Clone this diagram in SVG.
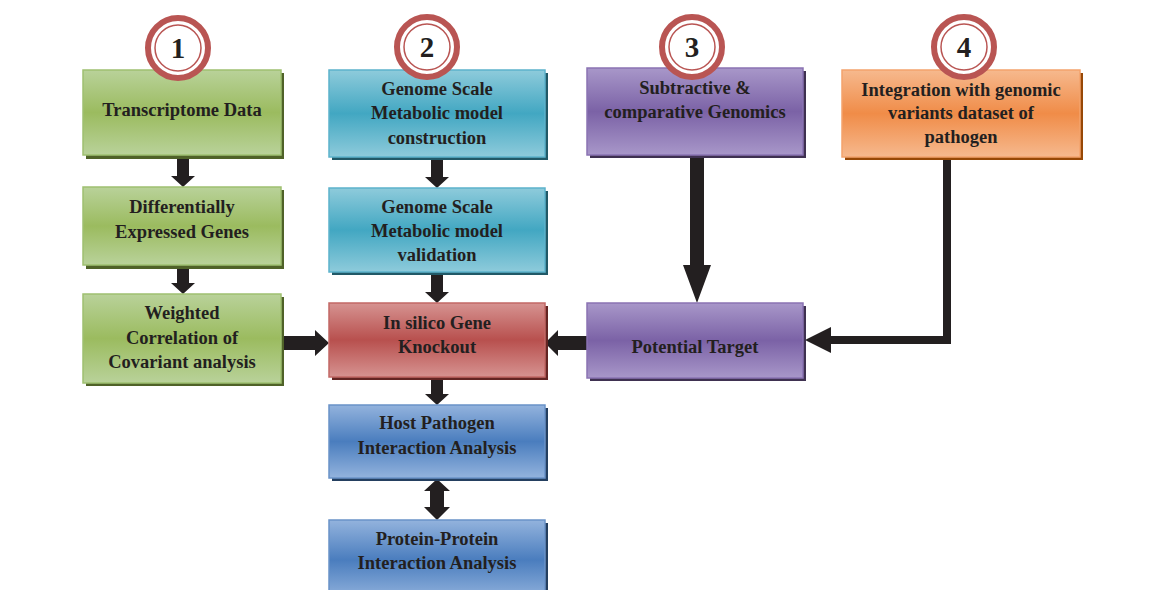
<svg xmlns="http://www.w3.org/2000/svg" width="1159" height="590" viewBox="0 0 1159 590">
<defs>
<linearGradient id="gGreen" x1="0" y1="0" x2="0" y2="1"><stop offset="0" stop-color="#b9d29a"/><stop offset="0.5" stop-color="#9bbb5f"/><stop offset="1" stop-color="#b9d29a"/></linearGradient>
<linearGradient id="gCyan" x1="0" y1="0" x2="0" y2="1"><stop offset="0" stop-color="#8ecbdb"/><stop offset="0.5" stop-color="#42a7c2"/><stop offset="1" stop-color="#8ecbdb"/></linearGradient>
<linearGradient id="gPurple" x1="0" y1="0" x2="0" y2="1"><stop offset="0" stop-color="#a897c9"/><stop offset="0.5" stop-color="#7b62a6"/><stop offset="1" stop-color="#a897c9"/></linearGradient>
<linearGradient id="gOrange" x1="0" y1="0" x2="0" y2="1"><stop offset="0" stop-color="#f6b98e"/><stop offset="0.5" stop-color="#f08c48"/><stop offset="1" stop-color="#f6b98e"/></linearGradient>
<linearGradient id="gRed" x1="0" y1="0" x2="0" y2="1"><stop offset="0" stop-color="#d69391"/><stop offset="0.5" stop-color="#b8504e"/><stop offset="1" stop-color="#d69391"/></linearGradient>
<linearGradient id="gBlue" x1="0" y1="0" x2="0" y2="1"><stop offset="0" stop-color="#93b3dd"/><stop offset="0.5" stop-color="#4a7dbe"/><stop offset="1" stop-color="#93b3dd"/></linearGradient>
</defs>
<style>
text{font-family:"Liberation Serif","Times New Roman",serif;font-weight:bold;fill:#231f20;text-anchor:middle}
.t{font-size:18.5px}
.num{font-size:29px}
.ring{fill:#fff;stroke:#b95553;stroke-width:6}
.ring2{fill:none;stroke:#b95553;stroke-width:1.5}
.green{fill:url(#gGreen);stroke:#9fc070;stroke-width:1.5}
.cyan{fill:url(#gCyan);stroke:#5cb3cc;stroke-width:1.5}
.purple{fill:url(#gPurple);stroke:#8a73b3;stroke-width:1.5}
.orange{fill:url(#gOrange);stroke:#f3a36c;stroke-width:1.5}
.red{fill:url(#gRed);stroke:#c26866;stroke-width:1.5}
.blue{fill:url(#gBlue);stroke:#6a93c8;stroke-width:1.5}
.shG{fill:#4f6228}.shC{fill:#215967}.shP{fill:#3f3151}.shO{fill:#974806}.shR{fill:#632523}.shB{fill:#243f60}
.arr{fill:#231f20}
.line{fill:none;stroke:#231f20;stroke-width:8}
</style>
<g id="connectors">
<path class="arr" d="M177 156H189V176H195L183 187L171 176H177Z"/>
<path class="arr" d="M177 267H189V283H195L183 294L171 283H177Z"/>
<path class="arr" d="M431 158H443V177H449L437 188L425 177H431Z"/>
<path class="arr" d="M431 273H443V292H449L437 303L425 292H431Z"/>
<path class="arr" d="M431 379H443V394H449L437 405L425 394H431Z"/>
<path class="arr" d="M437 479L450 491H444V507H450L437 520L424 507H430V491H424Z"/>
<path class="arr" d="M690 156H704V265H711L697 303L683 265H690Z"/>
<path class="arr" d="M282 336H315V330L329 343L315 356V350H282Z"/>
<path class="arr" d="M587 336H558V330L545 343L558 356V350H587Z"/>
<polyline class="line" points="947,157 947,340 828,340"/>
<path class="arr" d="M805 340L831 327V353Z"/>
</g>
<g id="n1">
<rect class="shG" x="86" y="73" width="198" height="86"/>
<rect class="green" x="83" y="70" width="198" height="85"/>
<text class="t" x="182" y="116">Transcriptome Data</text>
</g>
<g id="n1b">
<rect class="shG" x="86" y="190" width="198" height="79"/>
<rect class="green" x="83" y="187" width="198" height="78"/>
<text class="t" x="182" y="213">Differentially</text>
<text class="t" x="182" y="238">Expressed Genes</text>
</g>
<g id="n1c">
<rect class="shG" x="86" y="297" width="198" height="89"/>
<rect class="green" x="83" y="294" width="198" height="89"/>
<text class="t" x="182" y="319">Weighted</text>
<text class="t" x="182" y="344">Correlation of</text>
<text class="t" x="182" y="368">Covariant analysis</text>
</g>
<g id="n2">
<rect class="shC" x="332" y="73" width="216" height="87"/>
<rect class="cyan" x="329" y="70" width="216" height="87"/>
<text class="t" x="437" y="95">Genome Scale</text>
<text class="t" x="437" y="119">Metabolic model</text>
<text class="t" x="437" y="144">construction</text>
</g>
<g id="n2b">
<rect class="shC" x="332" y="191" width="216" height="84"/>
<rect class="cyan" x="329" y="188" width="216" height="84"/>
<text class="t" x="437" y="213">Genome Scale</text>
<text class="t" x="437" y="237">Metabolic model</text>
<text class="t" x="437" y="261">validation</text>
</g>
<g id="ko">
<rect class="shR" x="332" y="306" width="216" height="74"/>
<rect class="red" x="329" y="303" width="216" height="74"/>
<text class="t" x="437" y="329">In silico Gene</text>
<text class="t" x="437" y="353">Knockout</text>
</g>
<g id="hp">
<rect class="shB" x="332" y="408" width="216" height="73"/>
<rect class="blue" x="329" y="405" width="216" height="73"/>
<text class="t" x="437" y="429">Host Pathogen</text>
<text class="t" x="437" y="454">Interaction Analysis</text>
</g>
<g id="ppi">
<rect class="shB" x="332" y="523" width="216" height="80"/>
<rect class="blue" x="329" y="520" width="216" height="80"/>
<text class="t" x="437" y="545">Protein-Protein</text>
<text class="t" x="437" y="569">Interaction Analysis</text>
</g>
<g id="n3">
<rect class="shP" x="590" y="71" width="216" height="87"/>
<rect class="purple" x="587" y="68" width="216" height="87"/>
<text class="t" x="695" y="94">Subtractive &amp;</text>
<text class="t" x="695" y="118">comparative Genomics</text>
</g>
<g id="pt">
<rect class="shP" x="590" y="306" width="216" height="75"/>
<rect class="purple" x="587" y="303" width="216" height="75"/>
<text class="t" x="695" y="353">Potential Target</text>
</g>
<g id="n4">
<rect class="shO" x="845" y="73" width="238" height="87"/>
<rect class="orange" x="842" y="70" width="238" height="87"/>
<text class="t" x="961" y="96">Integration with genomic</text>
<text class="t" x="961" y="119">variants dataset of</text>
<text class="t" x="961" y="143">pathogen</text>
</g>
<g id="c1"><circle class="ring" cx="178" cy="48" r="30"/><circle class="ring2" cx="178" cy="48" r="23"/><text class="num" x="178" y="58">1</text></g>
<g id="c2"><circle class="ring" cx="427" cy="47" r="30"/><circle class="ring2" cx="427" cy="47" r="23"/><text class="num" x="427" y="57">2</text></g>
<g id="c3"><circle class="ring" cx="692" cy="47" r="30"/><circle class="ring2" cx="692" cy="47" r="23"/><text class="num" x="692" y="57">3</text></g>
<g id="c4"><circle class="ring" cx="964" cy="47" r="30"/><circle class="ring2" cx="964" cy="47" r="23"/><text class="num" x="964" y="57">4</text></g>
</svg>
